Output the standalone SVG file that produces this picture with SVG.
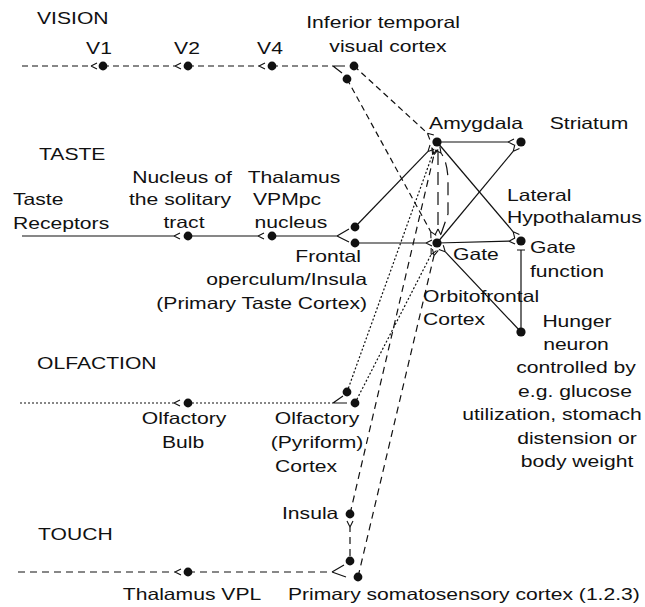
<svg xmlns="http://www.w3.org/2000/svg" width="645" height="607" viewBox="0 0 645 607">
<style>
.t{font-family:"Liberation Sans",Arial,Helvetica,sans-serif;font-size:16.5px;fill:#111}
.m{text-anchor:middle}
.e{text-anchor:end}
.dot{fill:#111}
.c{fill:none;stroke:#111;stroke-width:1.2}
.vis{stroke-dasharray:6 4}
.olf{stroke-dasharray:2 2}
.tch{stroke-dasharray:7 5}
.ld{stroke-dasharray:13 7}
</style>
<defs>
<marker id="fk" markerUnits="userSpaceOnUse" markerWidth="10" markerHeight="10" refX="0" refY="0" orient="auto" overflow="visible">
<path d="M0,0 L6,-3 M0,0 L6,3" fill="none" stroke="#111" stroke-width="1.1"/>
</marker>
</defs>
<rect width="645" height="607" fill="#fff"/>

<g id="headings">
<text class="t" transform="translate(37,24) scale(1.28,1)">VISION</text>
<text class="t" transform="translate(39,160) scale(1.28,1)">TASTE</text>
<text class="t" transform="translate(37,369) scale(1.28,1)">OLFACTION</text>
<text class="t" transform="translate(38,540) scale(1.28,1)">TOUCH</text>
</g>

<g id="connectors">
<!-- vision -->
<path class="c vis" d="M22,66 H91" marker-end="url(#fk)"/>
<path class="c vis" d="M103,66 H175" marker-end="url(#fk)"/>
<path class="c vis" d="M188,66 H259" marker-end="url(#fk)"/>
<path class="c vis" d="M272,66 H333"/>
<path class="c" d="M333,66 L345,66 M333,66 L342,73"/>
<path class="c vis" d="M354,66 L427.4,133.2" marker-end="url(#fk)"/>
<path class="c vis" d="M347,79 L430.7,231.6" marker-end="url(#fk)"/>
<!-- taste -->
<path class="c" d="M22,236 H174" marker-end="url(#fk)"/>
<path class="c" d="M188,236 H258" marker-end="url(#fk)"/>
<path class="c" d="M272,236 H337 M337,236 L349,229 M337,236 L349,242"/>
<path class="c" d="M355,227 L428,151.4" marker-end="url(#fk)"/>
<path class="c" d="M355,243 H426" marker-end="url(#fk)"/>
<!-- olfaction -->
<path class="c olf" d="M20,403 H174" marker-end="url(#fk)"/>
<path class="c olf" d="M188,403 H333"/>
<path class="c" d="M333,403 L343,396 M333,403 L347,403"/>
<path class="c olf" d="M347,392 L432.6,154.2" marker-end="url(#fk)"/>
<path class="c olf" d="M355,403 L431.1,254.6" marker-end="url(#fk)"/>
<!-- touch -->
<path class="c tch" d="M18,572 H175" marker-end="url(#fk)"/>
<path class="c tch" d="M188,572 H332"/>
<path class="c" d="M332,572 L344,565 M332,572 L346,577"/>
<path class="c tch" d="M350,556 V527" marker-end="url(#fk)"/>
<path class="c tch" d="M350,514 L434,154.7" marker-end="url(#fk)"/>
<path class="c tch" d="M358,577 L434,255.6" marker-end="url(#fk)"/>
<!-- amygdala / orbitofrontal -->
<path class="c ld" d="M438,152 V229" marker-end="url(#fk)"/>
<path class="c ld" d="M441,234 L448,214 L448,178 Q447,161 441,153" marker-end="url(#fk)"/>
<path class="c" d="M437,142 H508" marker-end="url(#fk)"/>
<path class="c" d="M437,243 L513.3,151.2" marker-end="url(#fk)"/>
<path class="c" d="M437,142 L513.2,231.8" marker-end="url(#fk)"/>
<path class="c" d="M437,243 L509,241.2" marker-end="url(#fk)"/>
<path class="c" d="M521,332 V250 M517,250 H525"/>
<path class="c" d="M521,332 L445.2,251.7" marker-end="url(#fk)"/>
</g>

<g id="v1"><circle class="dot" cx="103" cy="66" r="4.4"/><text class="t m" transform="translate(99,54) scale(1.28,1)">V1</text></g>
<g id="v2"><circle class="dot" cx="188" cy="66" r="4.4"/><text class="t m" transform="translate(187,54) scale(1.28,1)">V2</text></g>
<g id="v4"><circle class="dot" cx="272" cy="66" r="4.4"/><text class="t m" transform="translate(270,54) scale(1.28,1)">V4</text></g>
<g id="inferior-temporal">
<circle class="dot" cx="354" cy="66" r="4.4"/><circle class="dot" cx="347" cy="79" r="4.4"/>
<text class="t m" transform="translate(383,28) scale(1.28,1)">Inferior temporal</text>
<text class="t m" transform="translate(388,52) scale(1.28,1)">visual cortex</text>
</g>

<g id="taste-receptors">
<text class="t" transform="translate(13,205) scale(1.28,1)">Taste</text>
<text class="t" transform="translate(13,229) scale(1.28,1)">Receptors</text>
</g>
<g id="nucleus-solitary-tract"><circle class="dot" cx="188" cy="236" r="4.4"/>
<text class="t m" transform="translate(182,183) scale(1.28,1)">Nucleus of</text>
<text class="t m" transform="translate(180,205) scale(1.28,1)">the solitary</text>
<text class="t m" transform="translate(184,228) scale(1.28,1)">tract</text>
</g>
<g id="thalamus-vpmpc"><circle class="dot" cx="272" cy="236" r="4.4"/>
<text class="t m" transform="translate(294,183) scale(1.28,1)">Thalamus</text>
<text class="t m" transform="translate(287,205) scale(1.28,1)">VPMpc</text>
<text class="t m" transform="translate(291,228) scale(1.28,1)">nucleus</text>
</g>
<g id="primary-taste-cortex">
<circle class="dot" cx="355" cy="227" r="4.4"/><circle class="dot" cx="355" cy="243" r="4.4"/>
<text class="t e" transform="translate(361,262) scale(1.28,1)">Frontal</text>
<text class="t e" transform="translate(367,285) scale(1.28,1)">operculum/Insula</text>
<text class="t e" transform="translate(367,309) scale(1.28,1)">(Primary Taste Cortex)</text>
</g>

<g id="amygdala"><circle class="dot" cx="437" cy="142" r="4.6"/>
<text class="t m" transform="translate(476,129) scale(1.28,1)">Amygdala</text></g>
<g id="striatum"><circle class="dot" cx="521" cy="142" r="4.6"/>
<text class="t m" transform="translate(589,129) scale(1.28,1)">Striatum</text></g>
<g id="orbitofrontal"><circle class="dot" cx="437" cy="243" r="4.6"/>
<text class="t" transform="translate(453,260) scale(1.28,1)">Gate</text>
<text class="t" transform="translate(423,302) scale(1.28,1)">Orbitofrontal</text>
<text class="t" transform="translate(423,325) scale(1.28,1)">Cortex</text>
</g>
<g id="lateral-hypothalamus"><circle class="dot" cx="521" cy="241" r="4.6"/>
<text class="t" transform="translate(507,201) scale(1.28,1)">Lateral</text>
<text class="t" transform="translate(507,223) scale(1.28,1)">Hypothalamus</text>
<text class="t" transform="translate(530,253) scale(1.28,1)">Gate</text>
<text class="t" transform="translate(530,277) scale(1.28,1)">function</text>
</g>
<g id="hunger-neuron"><circle class="dot" cx="521" cy="332" r="4.6"/>
<text class="t m" transform="translate(577,327) scale(1.28,1)">Hunger</text>
<text class="t m" transform="translate(576,350) scale(1.28,1)">neuron</text>
<text class="t m" transform="translate(576,373) scale(1.28,1)">controlled by</text>
<text class="t m" transform="translate(575,397) scale(1.28,1)">e.g. glucose</text>
<text class="t m" transform="translate(552,420) scale(1.28,1)">utilization, stomach</text>
<text class="t m" transform="translate(577,444) scale(1.28,1)">distension or</text>
<text class="t m" transform="translate(577,467) scale(1.28,1)">body weight</text>
</g>

<g id="olfactory-bulb"><circle class="dot" cx="188" cy="403" r="4.4"/>
<text class="t m" transform="translate(184,424) scale(1.28,1)">Olfactory</text>
<text class="t m" transform="translate(183,448) scale(1.28,1)">Bulb</text>
</g>
<g id="olfactory-cortex">
<circle class="dot" cx="347" cy="392" r="4.4"/><circle class="dot" cx="355" cy="403" r="4.4"/>
<text class="t m" transform="translate(317,424) scale(1.28,1)">Olfactory</text>
<text class="t m" transform="translate(317,448) scale(1.28,1)">(Pyriform)</text>
<text class="t m" transform="translate(306,472) scale(1.28,1)">Cortex</text>
</g>

<g id="insula"><circle class="dot" cx="350" cy="514" r="4.4"/>
<text class="t" transform="translate(282,519) scale(1.28,1)">Insula</text></g>
<g id="thalamus-vpl"><circle class="dot" cx="188" cy="572" r="4.4"/>
<text class="t m" transform="translate(192,600) scale(1.28,1)">Thalamus VPL</text></g>
<g id="primary-somatosensory-cortex">
<circle class="dot" cx="350" cy="561" r="4.4"/><circle class="dot" cx="358" cy="577" r="4.4"/>
<text class="t" transform="translate(288,600) scale(1.28,1)">Primary somatosensory cortex (1.2.3)</text>
</g>
</svg>
